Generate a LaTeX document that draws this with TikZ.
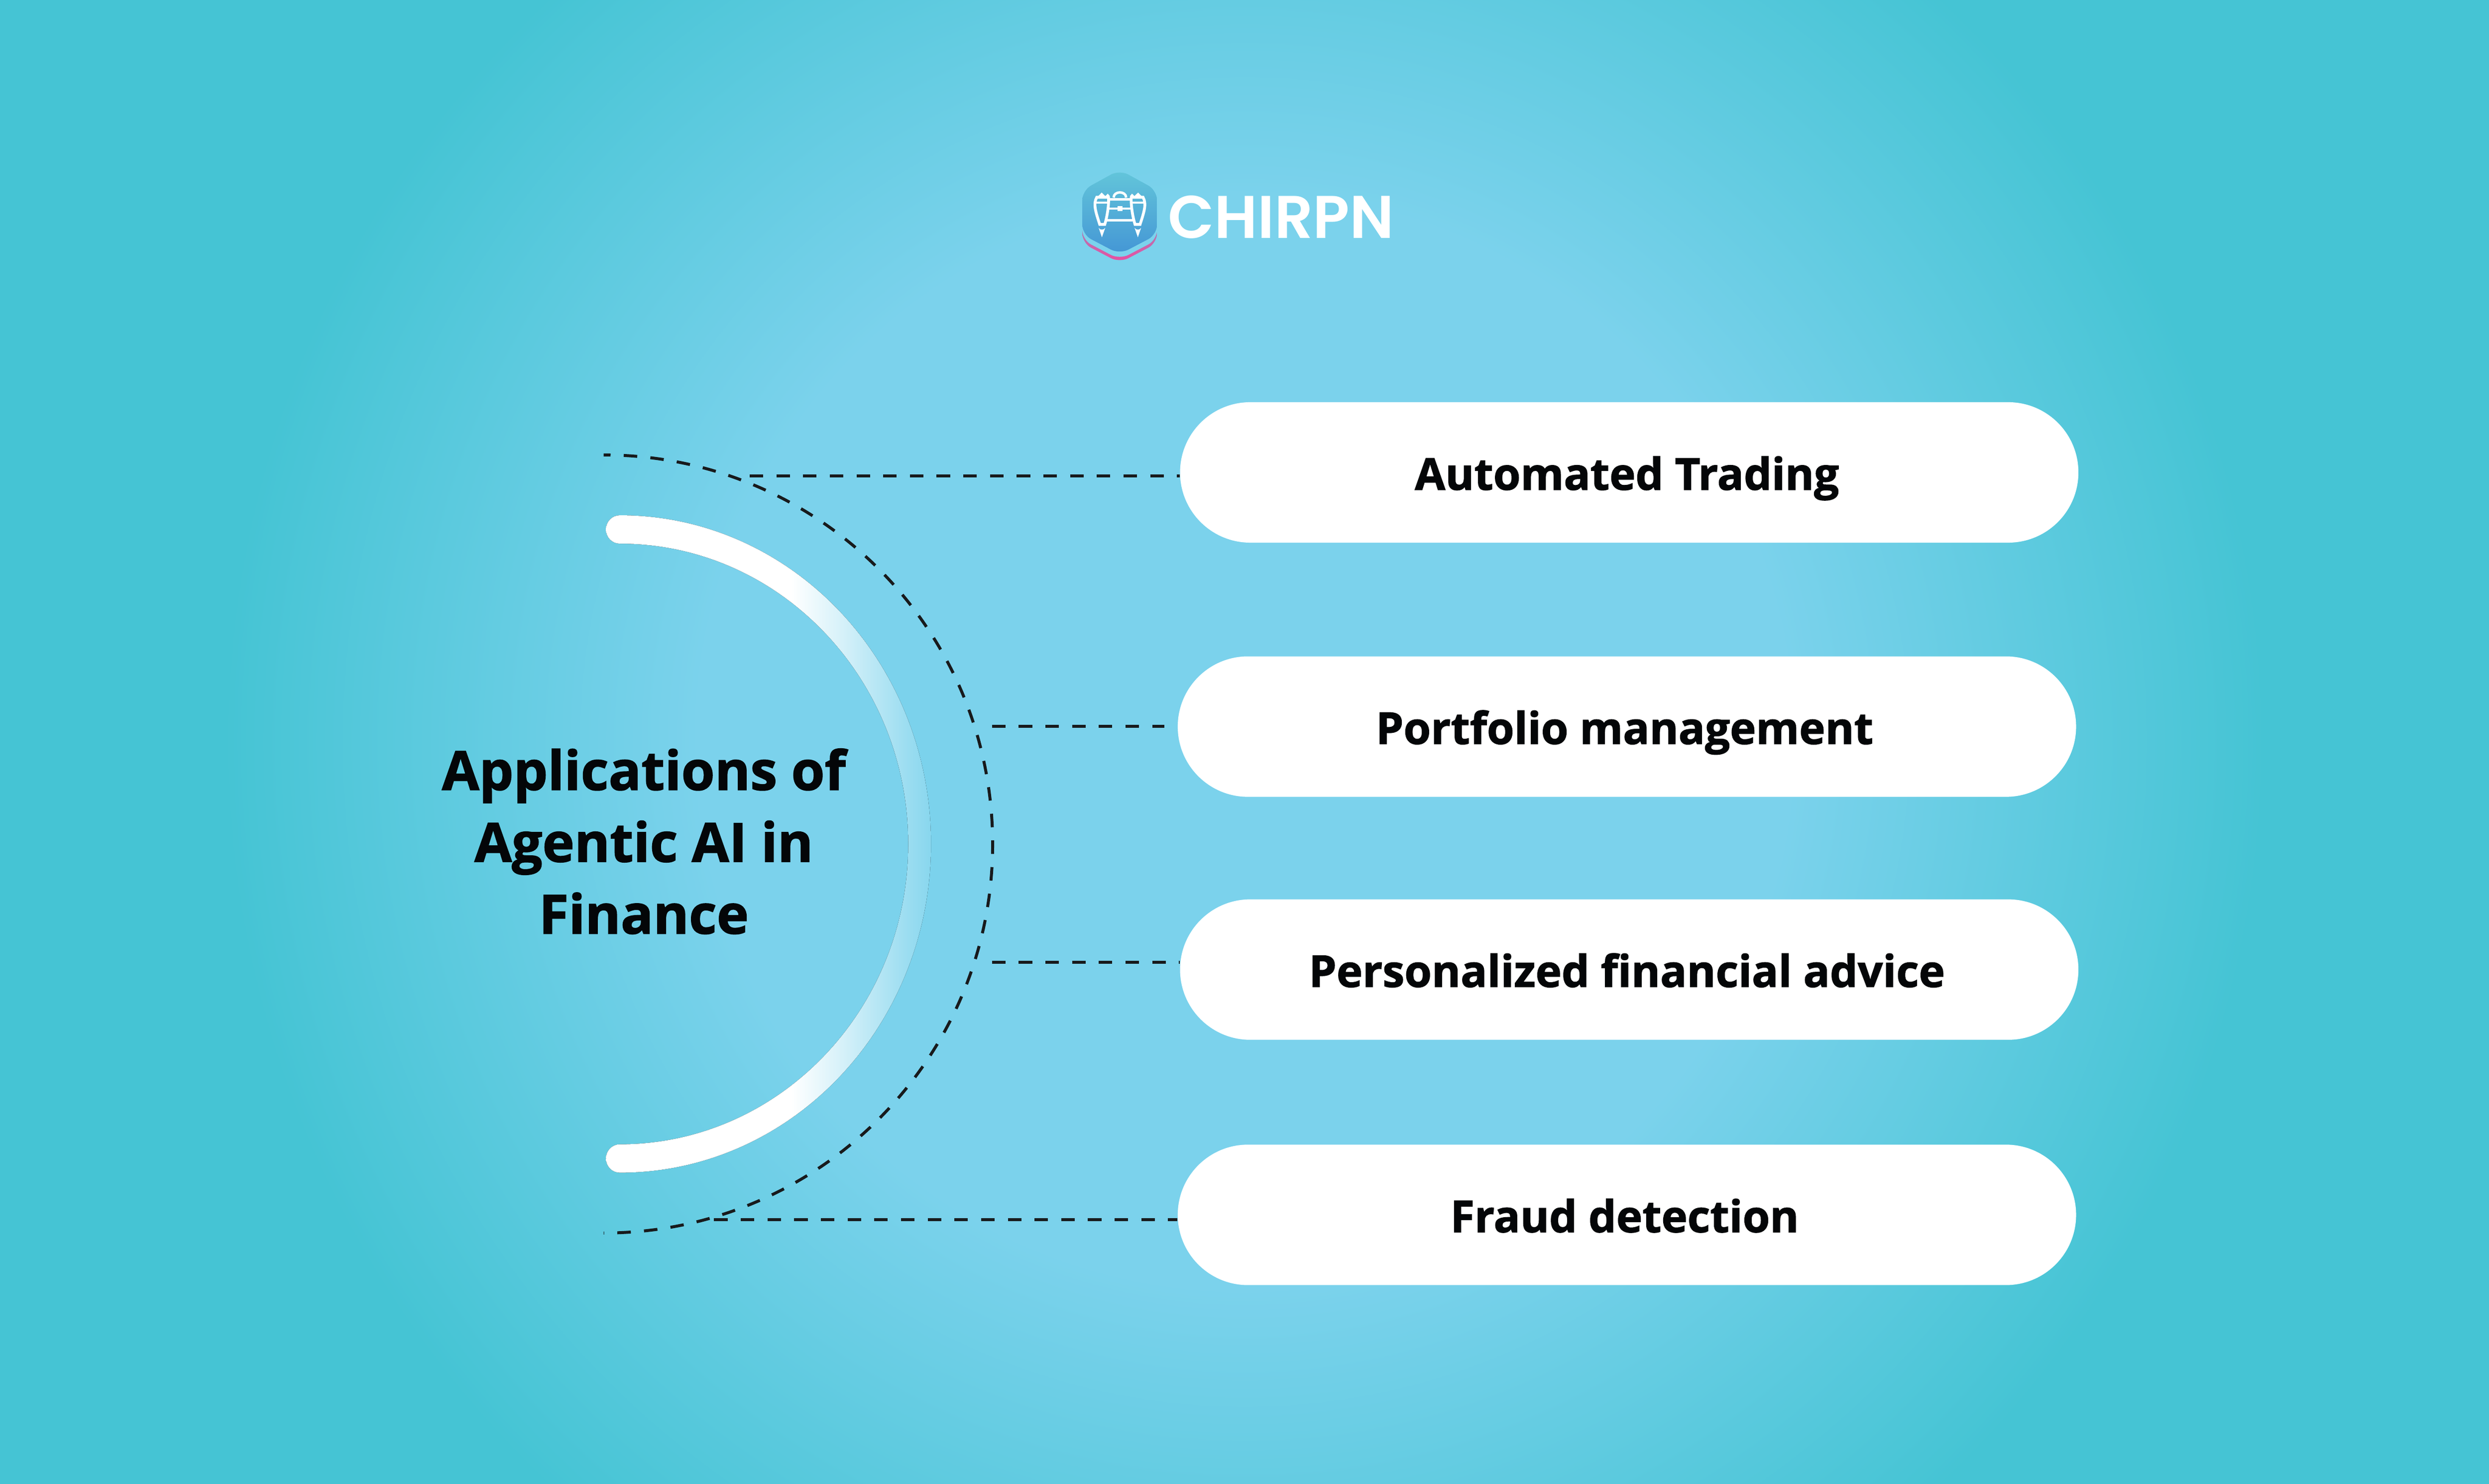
\documentclass[tikz,border=0pt]{standalone}
\usepackage{fontspec}
\usetikzlibrary{shapes.misc}
\setmainfont{Open Sans}[BoldFeatures={FakeBold=1.5}]
\newfontfamily\logofont{Poppins SemiBold}
\definecolor{glow}{HTML}{7BD2EC}
\definecolor{rim}{HTML}{45C4D4}
\definecolor{ink}{HTML}{040608}
\definecolor{hextop}{HTML}{63C6DA}
\definecolor{hexbot}{HTML}{4496D5}
\definecolor{pinkmid}{HTML}{A562AC}
\definecolor{pinkbot}{HTML}{EE4CA0}
\pgfdeclareradialshading{bgglow}{\pgfpoint{0bp}{0bp}}{color(0bp)=(glow); color(9.2bp)=(glow); color(17.2bp)=(rim); color(50bp)=(rim)}
\pgfdeclarehorizontalshading{arcfade}{100bp}{color(0bp)=(white); color(53.5bp)=(white); color(57.5bp)=(white!84!glow); color(61.5bp)=(white!68!glow); color(66.5bp)=(white!46!glow); color(71.5bp)=(white!24!glow); color(75bp)=(white!10!glow); color(100bp)=(white!10!glow)}
\newcommand{\logohex}{(-2,391) -- (339,203) -- (339,-200) -- (-2,-379) -- (-343,-200) -- (-343,203) -- cycle}
\begin{document}
\begin{tikzpicture}
	\tikzstyle{pill} = [rounded rectangle,fill=white,minimum width=27.25cm,minimum height=4.26cm,inner sep=0pt,text=ink,font=\fontsize{38}{46}\selectfont\bfseries,text height=30pt,text depth=0pt,execute at begin node=\hspace*{-0.14cm}]
	\tikzstyle{leader} = [draw=ink!92!white,line width=0.09cm,dash pattern=on 0.41cm off 0.4cm]

	\useasboundingbox (0,0) rectangle (75.5,45);
	\begin{scope}
		\clip (0,0) rectangle (75.5,45);
		\shade[shading=bgglow] (37.75,22.5) circle (45);
	\end{scope}

	\fill[shading=arcfade] (18.8,29.37) arc[start angle=90,end angle=-90,x radius=9.44,y radius=9.97]
		arc[start angle=270,end angle=90,x radius=0.42,y radius=0.43]
		arc[start angle=-90,end angle=90,x radius=8.75,y radius=9.11]
		arc[start angle=270,end angle=90,x radius=0.42,y radius=0.43] -- cycle;
	\draw[leader,dash phase=0.2cm] (18.31,31.2) arc[start angle=90,end angle=-90,radius=11.8];

	\node[pill] (p1) at (49.42,30.67) {Automated Trading};
	\node[pill] (p2) at (49.35,22.96) {Portfolio management};
	\node[pill] (p3) at (49.42,15.59) {Personalized financial advice};
	\node[pill] (p4) at (49.35,8.15) {Fraud detection};

	\coordinate (l1) at (22.74,30.56);
	\coordinate (l2) at (30.09,22.97);
	\coordinate (l3) at (30.09,15.81);
	\coordinate (l4) at (21.66,8.01);

	\path (l1) edge[leader] (l1 -| p1.west);
	\path (l2) edge[leader,shorten >=0.4cm] (l2 -| p2.west);
	\path (l3) edge[leader] (l3 -| p3.west);
	\path (l4) edge[leader] (l4 -| p4.west);

	\node[text=ink,align=center,anchor=base,font=\fontsize{46.7}{62}\selectfont\bfseries] (title) at (19.53,16.68) {Applications of\\Agentic AI in\\Finance};

	\begin{scope}[shift={(33.97,38.55)},x=0.00333cm,y=0.00333cm]
		\shade[top color=rim,middle color=pinkmid,bottom color=pinkbot,rounded corners=0.3cm,yshift=-0.26cm] \logohex;
		\fill[glow,rounded corners=0.3cm,yshift=-0.16cm] \logohex;
		\shade[top color=hextop,bottom color=hexbot,rounded corners=0.3cm] \logohex;
		\foreach \s in {1,-1} {
			\begin{scope}[xscale=\s,white,line width=0.085cm,line join=miter]
				\draw (-211,140) -- (-121,140) .. controls (-90,210) and (-100,10) .. (-138,-107) -- (-184,-107) .. controls (-222,10) and (-245,80) .. cycle;
				\draw[line width=0.06cm] (-226,93) -- (-105,93);
				\fill (-166,183) -- (-201,147) -- (-129,147) -- cycle;
				\fill (-193,-140) .. controls (-180,-160) and (-150,-160) .. (-134,-140) -- (-164,-225) -- cycle;
			\end{scope}
		}
		\draw[white,line width=0.075cm] (-110,122) -- (110,122);
		\draw[white,line width=0.065cm] (-100,38) -- (100,38);
		\draw[white,line width=0.075cm] (-116,-71) -- (116,-71);
		\draw[white,line width=0.075cm] (-57,137) .. controls (-57,200) and (57,200) .. (57,137);
		\fill[white] (-21,60) rectangle (26,13);
	\end{scope}

	\node[text=white,anchor=base west,inner sep=0pt,font=\logofont\fontsize{52}{60}\selectfont] (logo) at (35.43,37.77) {CHIRPN};
\end{tikzpicture}
\end{document}
